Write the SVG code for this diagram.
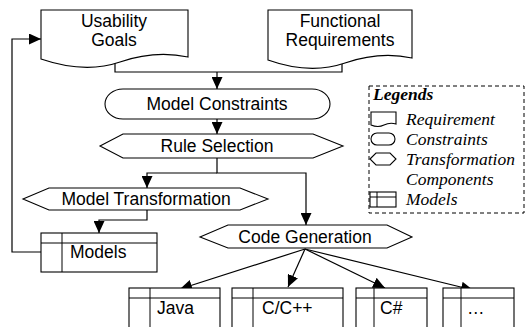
<svg xmlns="http://www.w3.org/2000/svg" width="526" height="327" viewBox="0 0 526 327">
<defs>
<marker id="ah" markerUnits="userSpaceOnUse" markerWidth="12" markerHeight="11" refX="12" refY="5.5" orient="auto">
<path d="M0,0 L12,5.5 L0,11 Z" fill="#000"/>
</marker>
<style>
.s{fill:#fff;stroke:#000;stroke-width:1.1}
.c{fill:none;stroke:#000;stroke-width:1.2}
.t{font-family:"Liberation Sans",Arial,sans-serif;font-size:17.5px;fill:#000}
.m{text-anchor:middle}
.l{font-family:"Liberation Serif","Times New Roman",serif;font-style:italic;font-size:17.5px;fill:#000}
.ln{fill:none;stroke:#000;stroke-width:1}
</style>
</defs>
<rect width="526" height="327" fill="#fff"/>

<g id="connectors">
<path class="c" d="M115,62 V72 H342 V64"/>
<path class="c" d="M217,72 V89" marker-end="url(#ah)"/>
<path class="c" d="M217,119 V134" marker-end="url(#ah)"/>
<path class="c" d="M217,158 V173 H306 V225" marker-end="url(#ah)"/>
<path class="c" d="M217,173 H147 V188" marker-end="url(#ah)"/>
<path class="c" d="M147,210 V220 H99 V233" marker-end="url(#ah)"/>
<path class="c" d="M41,252 H12 V39 H41" marker-end="url(#ah)"/>
<path class="c" d="M305,249 L180,289" marker-end="url(#ah)"/>
<path class="c" d="M305,249 L288,287" marker-end="url(#ah)"/>
<path class="c" d="M305,249 L385,288" marker-end="url(#ah)"/>
<path class="c" d="M305,249 L473,290" marker-end="url(#ah)"/>
</g>

<g id="usability-goals">
<path class="s" d="M41,10 H188 V57 Q155,50 120,62 T41,59 Z"/>
<text class="t m" x="114" y="27">Usability</text>
<text class="t m" x="114" y="46">Goals</text>
</g>

<g id="functional-requirements">
<path class="s" d="M268,10 H412 V58 Q380,51 345,63 T268,60 Z"/>
<text class="t m" x="340" y="27">Functional</text>
<text class="t m" x="340" y="46">Requirements</text>
</g>

<g id="model-constraints">
<path class="s" d="M123,89 H312 A18,15 0 0 1 312,119 H123 A18,15 0 0 1 123,89 Z"/>
<text class="t m" x="217" y="110">Model Constraints</text>
</g>

<g id="rule-selection">
<polygon class="s" points="100,146 123,134 313,134 343,146 313,158 123,158"/>
<text class="t m" x="217" y="152">Rule Selection</text>
</g>

<g id="model-transformation">
<polygon class="s" points="23,199 49,188 240,188 268,199 240,210 49,210"/>
<text class="t m" x="146" y="205">Model Transformation</text>
</g>

<g id="models">
<rect class="s" x="41" y="233" width="116" height="39"/>
<path class="ln" d="M41,243 H157 M62,233 V272"/>
<text class="t" x="70" y="258">Models</text>
</g>

<g id="code-generation">
<polygon class="s" points="200,237 228,225 387,225 412,237 387,248 228,248"/>
<text class="t m" x="305" y="243">Code Generation</text>
</g>

<g id="java">
<rect class="s" x="129" y="288" width="91" height="45"/>
<path class="ln" d="M129,298 H220 M150,288 V333"/>
<text class="t" x="157" y="314">Java</text>
</g>

<g id="cpp">
<rect class="s" x="232" y="288" width="111" height="45"/>
<path class="ln" d="M232,298 H343 M253,288 V333"/>
<text class="t" x="262" y="314">C/C++</text>
</g>

<g id="csharp">
<rect class="s" x="356" y="288" width="71" height="45"/>
<path class="ln" d="M356,298 H427 M374,288 V333"/>
<text class="t" x="380" y="314">C#</text>
</g>

<g id="more">
<rect class="s" x="443" y="288" width="71" height="45"/>
<path class="ln" d="M443,298 H514 M461,288 V333"/>
<text class="t" x="467" y="314">…</text>
</g>

<g id="legend">
<rect x="369" y="86" width="155" height="127" fill="none" stroke="#000" stroke-width="1" stroke-dasharray="4,3"/>
<text class="l" x="373" y="100" font-weight="bold">Legends</text>
<path class="s" d="M371,112 H396 V124 Q390,122 384,125 T371,125 Z"/>
<text class="l" x="406" y="125">Requirement</text>
<path class="s" d="M377,133 H389 A6,6 0 0 1 389,145 H377 A6,6 0 0 1 377,133 Z"/>
<text class="l" x="406" y="145">Constraints</text>
<polygon class="s" points="370,159 376,153 390,153 396,159 390,165 376,165"/>
<text class="l" x="406" y="165">Transformation</text>
<text class="l" x="406" y="185">Components</text>
<rect class="s" x="370" y="192" width="26" height="15"/>
<path class="ln" d="M370,197 H396 M377,192 V207"/>
<text class="l" x="406" y="205">Models</text>
</g>
</svg>
